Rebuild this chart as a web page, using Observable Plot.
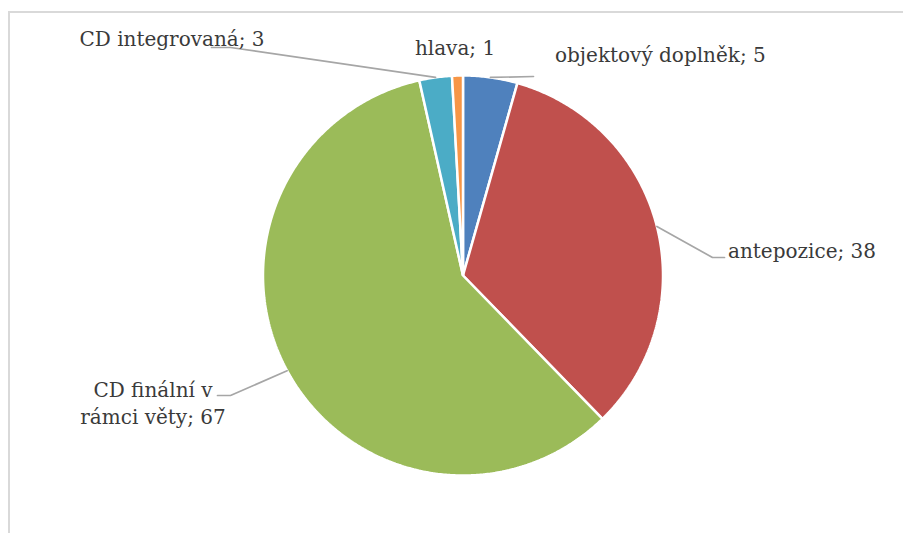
<!DOCTYPE html>
<html>
<head>
<meta charset="utf-8">
<script src="https://cdn.jsdelivr.net/npm/d3@7"></script>
<script src="https://cdn.jsdelivr.net/npm/@observablehq/plot@0.6"></script>
<style>
  html, body { margin: 0; padding: 0; background: #fff; }
  #wrap { position: relative; width: 903px; height: 533px; overflow: hidden; }
  #frame { position: absolute; left: 8px; top: 11px; width: 900px; height: 540px;
           border-left: 2px solid #d9d9d9; border-top: 2px solid #d9d9d9; pointer-events: none; }
</style>
</head>
<body>
<div id="wrap"><div id="frame"></div></div>
<script>
// ---- data ----
const categories = ["objektový doplněk", "antepozice", "CD finální v rámci věty", "CD integrovaná", "hlava"];
const values = [5, 38, 67, 3, 1];
const colors = ["#4F81BD", "#C0504D", "#9BBB59", "#4BACC6", "#F79646"];
const labelTexts = ["objektový doplněk; 5", "antepozice; 38", "CD finální v\nrámci věty; 67", "CD integrovaná; 3", "hlava; 1"];

// ---- label layout (in pie-radius units, y up) ----
const labelAnchor = ["start", "start", "middle", "middle", "middle"];
const labelPos = [[0.46, 1.10], [1.325, 0.12], [-1.55, -0.63], [-1.455, 1.19], [-0.04, 1.145]];
const leaderBend = [null, [1.2475, 0.09], [-1.1625, -0.60], [-1.1625, 1.14], null];
const leaderEnd = [[0.3525, 0.995], [1.3075, 0.09], [-1.2275, -0.60], [-1.2575, 1.14], null];

// ---- geometry from data ----
const pie = d3.pie().sort(null).value((d, i) => values[i])(categories);
const slices = [];
pie.forEach((p, i) => {
  const n = Math.max(2, Math.ceil((p.endAngle - p.startAngle) / (Math.PI / 360)));
  slices.push({cat: categories[i], x: 0, y: 0});
  for (let k = 0; k <= n; k++) {
    const a = p.startAngle + (p.endAngle - p.startAngle) * k / n;
    slices.push({cat: categories[i], x: Math.sin(a), y: Math.cos(a)});
  }
});
const leaders = [];
pie.forEach((p, i) => {
  if (!leaderEnd[i]) return;
  const m = (p.startAngle + p.endAngle) / 2;
  leaders.push({cat: categories[i], x: Math.sin(m), y: Math.cos(m)});
  if (leaderBend[i]) leaders.push({cat: categories[i], x: leaderBend[i][0], y: leaderBend[i][1]});
  leaders.push({cat: categories[i], x: leaderEnd[i][0], y: leaderEnd[i][1]});
});
const labels = categories.map((c, i) => ({cat: c, text: labelTexts[i], anchor: labelAnchor[i], x: labelPos[i][0], y: labelPos[i][1]}));

const font = "DejaVu Serif";
const chart = Plot.plot({
  width: 903,
  height: 533,
  margin: 0,
  style: {background: "transparent", fontFamily: font},
  x: {domain: [-1, 1], range: [262.5, 662.5], axis: null},
  y: {domain: [-1, 1], range: [475, 75], axis: null},
  color: {domain: categories, range: colors},
  marks: [
    Plot.line(slices, {x: "x", y: "y", z: "cat", fill: "cat", stroke: "white", strokeWidth: 2.5, curve: "linear-closed", strokeLinejoin: "miter"}),
    Plot.line(leaders, {x: "x", y: "y", z: "cat", stroke: "#a6a6a6", strokeWidth: 1.7}),
    Plot.text(labels.filter(d => d.anchor === "start"), {x: "x", y: "y", text: "text", textAnchor: "start", fontSize: 20, fill: "#3a3a3a", fontFamily: font, lineAnchor: "middle"}),
    Plot.text(labels.filter(d => d.anchor === "middle"), {x: "x", y: "y", text: "text", textAnchor: "middle", fontSize: 20, fill: "#3a3a3a", fontFamily: font, lineAnchor: "middle", lineHeight: 1.35})
  ]
});
document.getElementById("wrap").insertBefore(chart, document.getElementById("frame"));
</script>
</body>
</html>
